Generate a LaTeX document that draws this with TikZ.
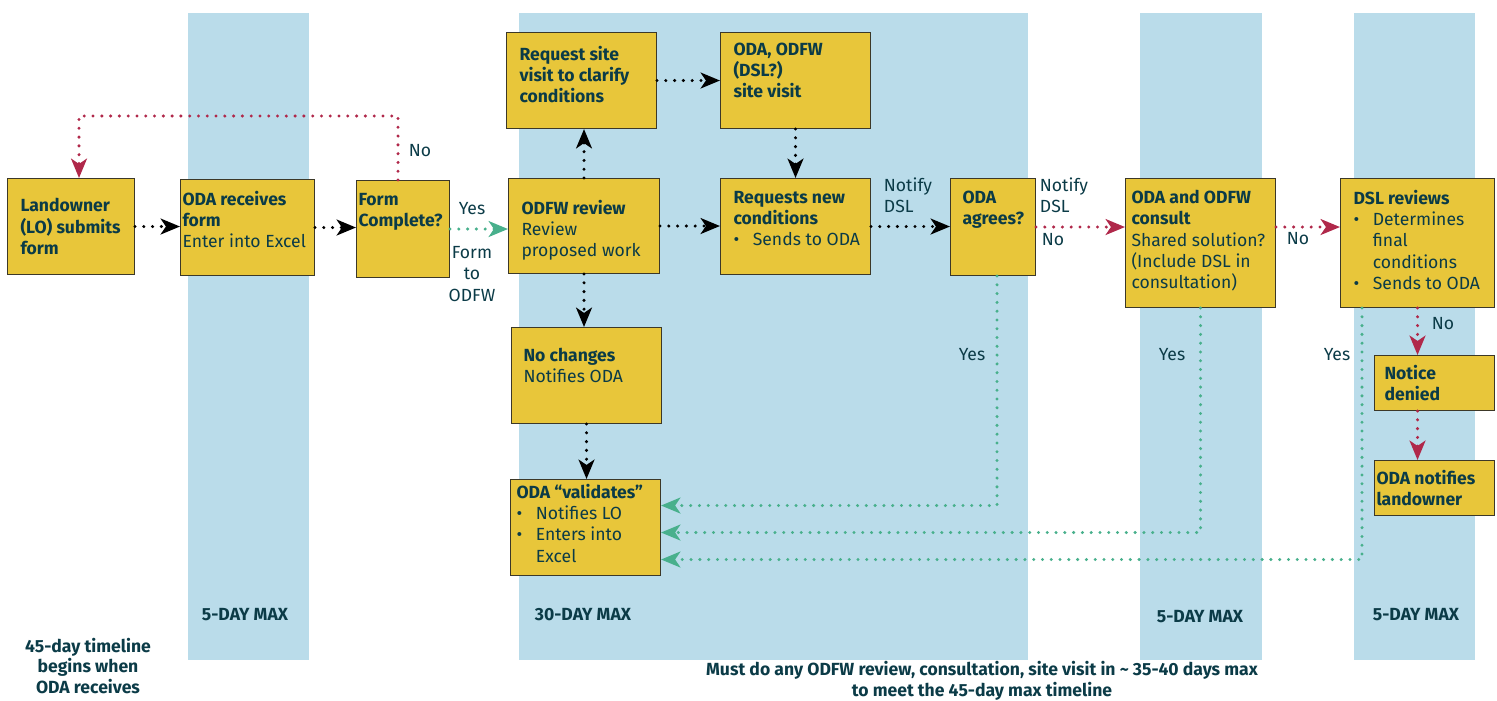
\documentclass[tikz,border=0pt]{standalone}
\usepackage{fontspec}
\setmainfont{Fira Sans}
\usetikzlibrary{arrows.meta}
\definecolor{band}{RGB}{186,220,234}
\definecolor{cardfill}{RGB}{232,198,58}
\definecolor{cardline}{RGB}{60,56,40}
\definecolor{ink}{RGB}{11,59,71}
\definecolor{nored}{RGB}{176,40,74}
\definecolor{yesgreen}{RGB}{72,176,140}
\newcommand{\card}[5][t]{\hspace*{#4}\parbox[c][#2][#1]{\dimexpr#3-#4\relax}{\raggedright #5}}
\newcommand{\itm}[1]{\par\hangindent=1.1em\hangafter=1\noindent\makebox[1.1em][l]{\textbullet}#1}

\begin{document}
\begin{tikzpicture}[x=0.02cm, y=-0.02cm, font=\fontsize{10}{12}\selectfont, text=ink,
		card/.style={draw=cardline, fill=cardfill, line width=0.6pt, anchor=north west, inner xsep=0pt},
		flow/.style={line width=1.9pt, line cap=round, dash pattern=on 0pt off 5pt, -{Stealth[length=11pt, width=9pt, inset=3pt]}},
		strong/.style={font=\fontsize{10}{11.6}\selectfont\bfseries}]
			\useasboundingbox (0,0) rectangle (1497,700);
			\fill[band] (188,13) rectangle (309,660);
			\fill[band] (519,13) rectangle (1028,660);
			\fill[band] (1140,13) rectangle (1262,660);
			\fill[band] (1354,13) rectangle (1475,660);
			\node[card, inner ysep=0.1cm] (lo) at (7,178) {\card[c]{1.72cm}{2.54cm}{0.26cm}{\textbf{Landowner\\(LO) submits\\form}}};
			\node[card, inner ysep=0.24cm] (recv) at (180,179) {\card{1.44cm}{2.68cm}{0.04cm}{\textbf{ODA receives\\form}\\Enter into Excel}};
			\node[card, inner ysep=0.26cm] (complete) at (356,180) {\card{1.42cm}{1.86cm}{0.04cm}{\textbf{Form\\Complete?}}};
			\node[card, inner ysep=0.44cm] (review) at (508,178) {\card{1.02cm}{3.02cm}{0.26cm}{\textbf{ODFW review}\\Review\\proposed work}};
			\node[card, inner ysep=0.28cm] (siteask) at (506,32) {\card{1.36cm}{3.00cm}{0.26cm}{\textbf{Request site\\visit to clarify\\conditions}}};
			\node[card, inner ysep=0.2cm] (sitevisit) at (720,32) {\card{1.52cm}{3.00cm}{0.26cm}{\textbf{ODA, ODFW\\(DSL?)\\site visit}}};
			\node[card, inner ysep=0.26cm] (newcond) at (720,178) {\card{1.40cm}{3.00cm}{0.26cm}{\textbf{Requests new\\conditions}\itm{Sends to ODA}}};
			\node[card, inner ysep=0.42cm] (nochange) at (511,327) {\card{1.08cm}{3.00cm}{0.24cm}{\textbf{No changes}\\Notifies ODA}};
			\node[card, inner ysep=0.1cm] (valid) at (510,479) {\card{1.72cm}{3.00cm}{0.12cm}{\textbf{ODA “validates”}\itm{Notifies LO}\itm{Enters into\newline Excel}}};
			\node[card, inner ysep=0.24cm] (agrees) at (950,178) {\card{1.46cm}{1.70cm}{0.24cm}{\textbf{ODA\\agrees?}}};
			\node[card, inner ysep=0.24cm] (consult) at (1125,178) {\card{2.10cm}{3.00cm}{0.12cm}{\textbf{ODA and ODFW\\consult}\\Shared solution?\\(Include DSL in\\consultation)}};
			\node[card, inner ysep=0.24cm] (dslrev) at (1340,178) {\card{2.10cm}{3.08cm}{0.26cm}{\textbf{DSL reviews}\itm{Determines\newline final\newline conditions}\itm{Sends to ODA}}};
			\node[card, inner ysep=0.05cm] (denied) at (1374,355) {\card[c]{1.0cm}{2.40cm}{0.2cm}{\textbf{Notice\\denied}}};
			\node[card, inner ysep=0.05cm] (notify) at (1374,460) {\card[c]{1.0cm}{2.40cm}{0.04cm}{\textbf{ODA notifies\\landowner}}};
			\draw[flow] (lo.east) -- (lo.east -| recv.west);
			\draw[flow] (recv.east) -- (recv.east -| complete.west);
			\draw[flow, yesgreen] (complete.east) -- (complete.east -| review.west);
			\draw[flow, nored] ([xshift=-0.1cm]complete.north) -- ++(0,-64) -| ([xshift=0.16cm]lo.north);
			\draw[flow] (review.north) -- (review.north |- siteask.south);
			\draw[flow] (siteask.east) -- (siteask.east -| sitevisit.west);
			\draw[flow] (sitevisit.south) -- (newcond.north);
			\draw[flow] (review.east) -- (review.east -| newcond.west);
			\draw[flow] (review.south) -- (review.south |- nochange.north);
			\draw[flow] (nochange.south) -- (nochange.south |- valid.north);
			\draw[flow] (newcond.east) -- (newcond.east -| agrees.west);
			\draw[flow, nored] (agrees.east) -- (agrees.east -| consult.west);
			\draw[flow, nored] (consult.east |- agrees.east) -- (dslrev.west |- agrees.east);
			\draw[flow, nored] (dslrev.south) -- (dslrev.south |- denied.north);
			\draw[flow, nored] (dslrev.south |- denied.south) -- (dslrev.south |- notify.north);
			\draw[flow, yesgreen] ([xshift=0.08cm]agrees.south) |- ([yshift=0.44cm]valid.east);
			\draw[flow, yesgreen] (consult.south) |- ([yshift=-0.1cm]valid.east);
			\draw[flow, yesgreen] ([xshift=0.44cm]dslrev.south west) |- ([yshift=-0.64cm]valid.east);
			\node (nolo) at (420,151) {No};
			\node (yesform) at (472,209) {Yes};
			\node[align=center] (toodfw) at (472,274) {Form\\to\\ODFW};
			\node[align=left] (dslnote) at (908,195) {Notify\\DSL};
			\node[align=left] (dslnotetwo) at (1064,195) {Notify\\DSL};
			\node (noagree) at (1053,240) {No};
			\node (noconsult) at (1298,239) {No};
			\node (nodsl) at (1443,324) {No};
			\node (yesagree) at (972,355) {Yes};
			\node (yesconsult) at (1172,355) {Yes};
			\node (yesdsl) at (1337,355) {Yes};
			\node[strong] (dayone) at (245,615) {5-DAY MAX};
			\node[strong] (daythirty) at (583,615) {30-DAY MAX};
			\node[strong] (daytwo) at (1200,617) {5-DAY MAX};
			\node[strong] (daythree) at (1416,615) {5-DAY MAX};
			\node[strong, align=center] (start) at (88,666) {45-day timeline\\begins when\\ODA receives};
			\node[strong, align=center] (must) at (982,681) {Must do any ODFW review, consultation, site visit in \textasciitilde{} 35-40 days max\\to meet the 45-day max timeline};
		\end{tikzpicture}
\end{document}
